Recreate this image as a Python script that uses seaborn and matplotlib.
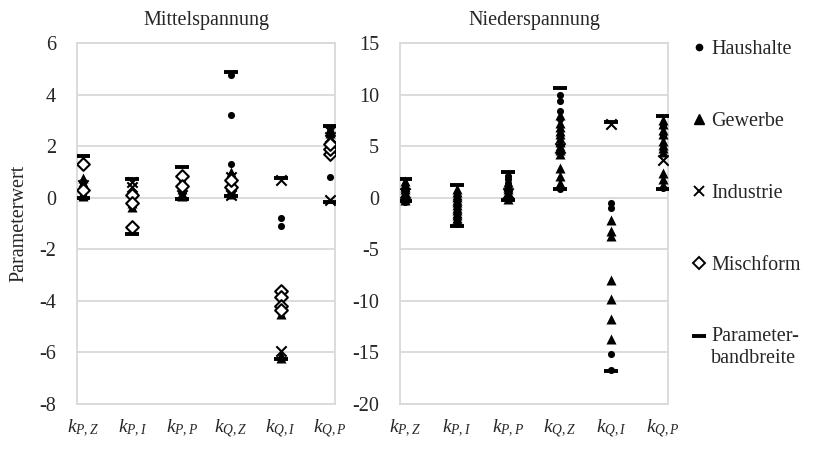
import matplotlib
matplotlib.use("Agg")
import matplotlib.pyplot as plt
from matplotlib.lines import Line2D
from matplotlib.legend_handler import HandlerLine2D
import seaborn as sns
import pandas as pd

categories = [r"$k_{P,Z}$", r"$k_{P,I}$", r"$k_{P,P}$", r"$k_{Q,Z}$", r"$k_{Q,I}$", r"$k_{Q,P}$"]
types = ["Haushalte", "Gewerbe", "Industrie", "Mischform"]

# Mittelspannung (values per category)
mv_haushalte = [[0.1, 0.2, 0.3, 0.4, 0.5, 0.65], [-0.1, 0.0, 0.1, 0.2, -0.3], [0.3, 0.4, 0.5, 0.6, 0.2],
                [4.75, 3.2, 1.3, 0.5, 0.3, 0.9], [-0.8, -1.1, -3.9], [2.4, 2.2, 2.6, 0.8]]
mv_gewerbe = [[0.2, 0.4, 0.6, 0.75, 0.05], [-0.2, 0.0, 0.3, -0.35], [0.2, 0.35, 0.55, 0.7, 0.05],
              [0.3, 0.6, 0.8, 0.15, 1.0], [-4.5, -6.1, -6.2], [2.5, 2.3, 2.0, 2.65]]
mv_industrie = [[0.15, 0.5], [0.4, 0.6], [0.1, 0.7],
                [0.1, 0.5, 0.8], [0.7, -5.95], [-0.1, 2.6, 2.35]]
mv_mischform = [[1.32, 0.3], [-1.15, 0.1, -0.2], [0.85, 0.45],
                [0.4, 0.7], [-3.6, -3.85, -4.2, -4.35], [1.7, 1.9, 2.1]]
mv_band_min = [0.0, -1.4, -0.05, 0.05, -6.25, -0.15]
mv_band_max = [1.62, 0.72, 1.2, 4.88, 0.75, 2.8]

# Niederspannung
nv_haushalte = [[0.2, 0.6, 1.0, -0.4], [-0.5, -1.0, -1.5, -2.0, -2.5], [1.8, 1.4, 1.0, 2.1],
                [10.0, 9.4, 8.4, 7.6, 0.8], [-0.5, -1.0, -15.2, -16.7], [7.0, 6.0, 0.9]]
nv_gewerbe = [[-0.2, 0.3, 0.8, 1.3, 1.6, 0.0, 0.55, 1.05],
              [0.8, 0.3, -0.2, -0.7, -1.2, -1.7, -2.2, 0.55, 0.05, -0.45, -0.95, -1.45, -1.95],
              [0.2, 0.6, 1.0, 1.5, -0.1, 0.4, 0.8, 1.25],
              [8.0, 7.2, 6.5, 5.8, 5.0, 4.2, 6.9, 6.2, 5.4, 4.6, 2.9, 2.1, 1.4],
              [-2.2, -3.2, -3.7, -8.0, -9.8, -11.8, -13.7],
              [7.5, 6.6, 5.5, 4.8, 7.1, 6.2, 5.1, 4.4, 2.4, 1.8, 1.2]]
nv_industrie = [[0.5], [], [0.5], [4.8], [7.1], [3.7]]
nv_mischform = [[], [], [], [], [], []]
nv_band_min = [-0.3, -2.7, -0.2, 0.8, -16.8, 0.8]
nv_band_max = [1.8, 1.2, 2.5, 10.6, 7.3, 7.9]

def long_frame(series):
    rows = []
    for name, per_cat in series.items():
        for i, vals in enumerate(per_cat):
            for v in vals:
                rows.append({"type": name, "pos": i, "value": v})
    return pd.DataFrame(rows, columns=["type", "pos", "value"])

mv_df = long_frame({"Haushalte": mv_haushalte, "Gewerbe": mv_gewerbe,
                    "Industrie": mv_industrie, "Mischform": mv_mischform})
nv_df = long_frame({"Haushalte": nv_haushalte, "Gewerbe": nv_gewerbe,
                    "Industrie": nv_industrie, "Mischform": nv_mischform})
mv_band = pd.DataFrame({"pos": list(range(6)) * 2, "value": mv_band_min + mv_band_max})
nv_band = pd.DataFrame({"pos": list(range(6)) * 2, "value": nv_band_min + nv_band_max})

sns.set_theme(style="white")
plt.rcParams["font.family"] = ["Liberation Serif", "DejaVu Serif"]
plt.rcParams["mathtext.fontset"] = "custom"
plt.rcParams["mathtext.rm"] = "Liberation Serif"
plt.rcParams["mathtext.it"] = "Liberation Serif:italic"
plt.rcParams["axes.unicode_minus"] = False

FS = 14.5
GRID = "#d9d9d9"
styles = {
    "Haushalte": dict(marker="o", s=26, color="black", edgecolor="black", linewidth=0),
    "Gewerbe": dict(marker="^", s=52, color="black", edgecolor="black", linewidth=0),
    "Industrie": dict(marker="x", s=55, color="black", linewidth=1.5),
    "Mischform": dict(marker="D", s=42, color="white", edgecolor="black", linewidth=1.5),
}

fig = plt.figure(figsize=(8.28, 4.54), dpi=100)
ax1 = fig.add_axes([77 / 828, 1 - 404 / 454, 258 / 828, 361 / 454])
ax2 = fig.add_axes([400 / 828, 1 - 404 / 454, 268 / 828, 361 / 454])

def draw(ax, df, band, ylim, yticks, xlim, title):
    ax.set_axisbelow(True)
    ax.yaxis.grid(True, color=GRID, linewidth=1.3)
    for t in types:
        sub = df[df["type"] == t]
        if len(sub):
            sns.scatterplot(data=sub, x="pos", y="value", ax=ax, legend=False, zorder=3, **styles[t])
    sns.scatterplot(data=band, x="pos", y="value", ax=ax, legend=False, marker="_",
                    s=95, color="black", linewidth=2.8, zorder=4)
    ax.set_ylim(*ylim)
    ax.set_yticks(yticks)
    ax.set_yticklabels([str(v) for v in yticks], fontsize=FS)
    ax.set_xlim(*xlim)
    ax.set_xticks(range(6))
    ax.set_xticklabels(categories, fontsize=FS - 0.5)
    ax.tick_params(axis="both", length=0)
    ax.tick_params(axis="y", pad=15)
    ax.tick_params(axis="x", pad=10)
    ax.set_xlabel("")
    ax.set_ylabel("")
    for sp in ax.spines.values():
        sp.set_color(GRID)
        sp.set_linewidth(1.3)
    ax.set_title(title, fontsize=FS, pad=13)

draw(ax1, mv_df, mv_band, (-8, 6), list(range(-8, 7, 2)), (-0.12, 5.1), "Mittelspannung")
draw(ax2, nv_df, nv_band, (-20, 15), list(range(-20, 16, 5)), (-0.1, 5.1), "Niederspannung")
ax1.set_ylabel("Parameterwert", fontsize=FS, labelpad=8)


class UpperLineHandler(HandlerLine2D):
    def create_artists(self, legend, orig_handle, xdescent, ydescent, width, height, fontsize, trans):
        return super().create_artists(legend, orig_handle, xdescent, ydescent - 1.15 * fontsize,
                                      width, height, fontsize, trans)


handles = [
    Line2D([], [], ls="none", marker="o", color="black", ms=4.5),
    Line2D([], [], ls="none", marker="^", color="black", ms=7),
    Line2D([], [], ls="none", marker="x", color="black", ms=7.5, mew=1.4),
    Line2D([], [], ls="none", marker="D", markerfacecolor="white", markeredgecolor="black", ms=6, mew=1.4),
    Line2D([], [], ls="none", marker="_", color="black", ms=10, mew=2.8),
]
labels = ["Haushalte", "Gewerbe", "Industrie", "Mischform", "Parameter-\nbandbreite"]
fig.legend(handles, labels, loc="upper left", bbox_to_anchor=(692 / 828, 1 - 40 / 454),
           frameon=False, fontsize=FS, labelspacing=2.62, handlelength=0.7,
           handletextpad=0.25, borderaxespad=0, borderpad=0,
           handler_map={handles[4]: UpperLineHandler()})

fig.savefig("out.png", dpi=100)
